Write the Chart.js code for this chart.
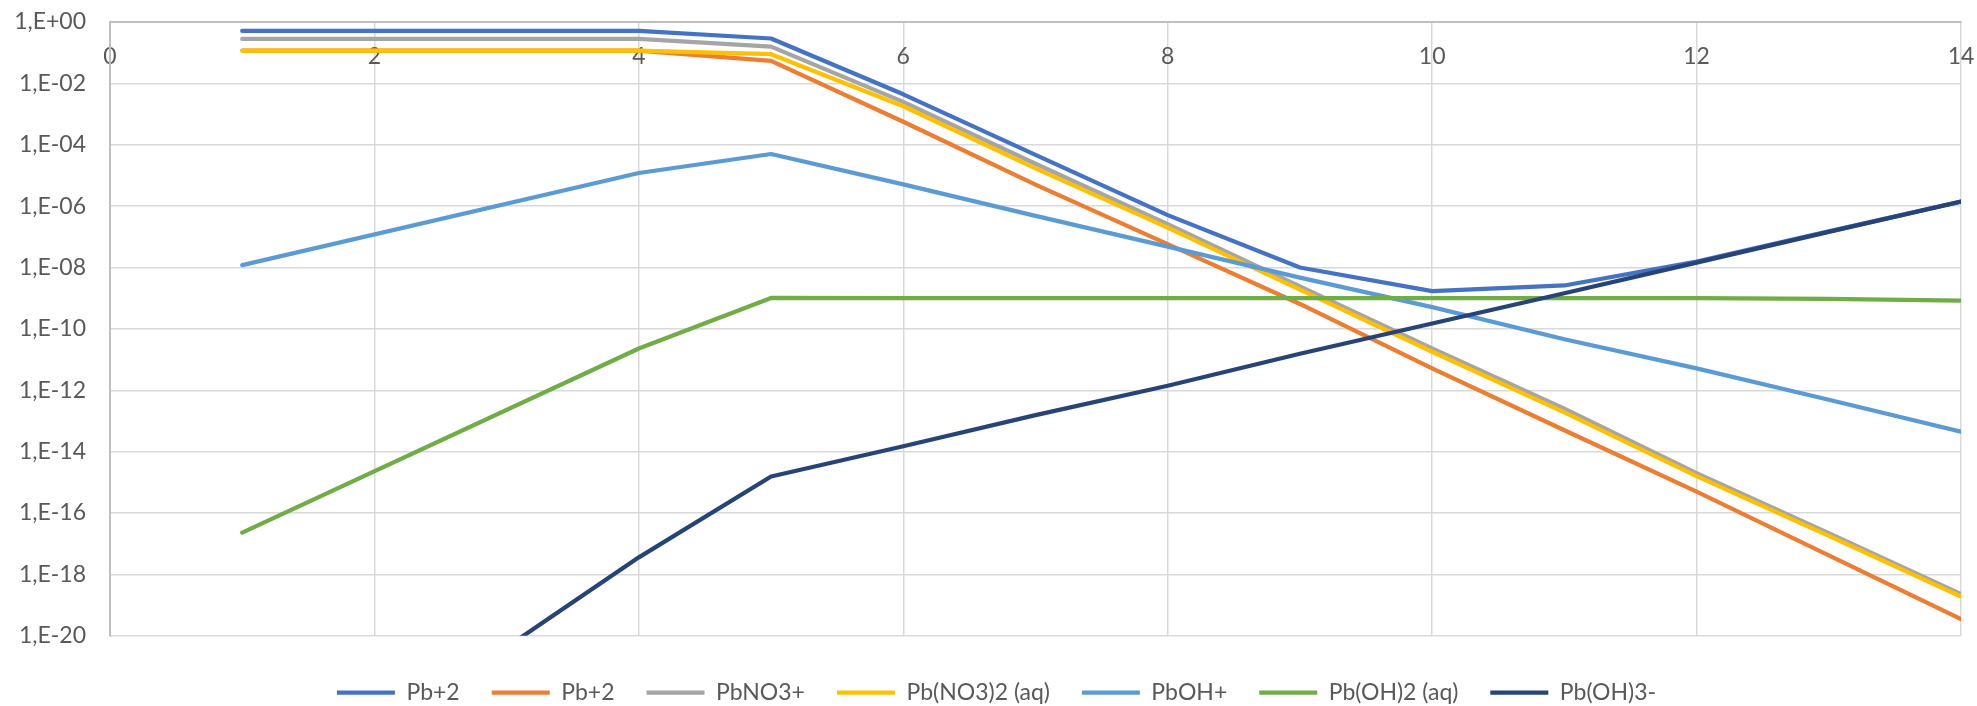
<!DOCTYPE html>
<html>
<head>
<meta charset="utf-8">
<script src="https://cdn.jsdelivr.net/npm/chart.js@4"></script>
<style>
  html, body { margin: 0; padding: 0; background: #fff; }
  #wrap { width: 1977px; height: 706px; }
</style>
</head>
<body>
<div id="wrap"><canvas id="chartSpeciation"></canvas></div>
<script>
/*-------------------
    DATA
--------------------*/
const pH = [1, 4, 5, 6, 7, 8, 9, 10, 11, 12, 13, 14];

const pbTotal  = [0.51, 0.51, 0.29, 4.4e-3, 4.7e-5, 5.1e-7, 1.0e-8, 1.7e-9, 2.6e-9, 1.55e-8, 1.5e-7, 1.4e-6];
const pb2      = [0.117, 0.117, 0.054, 5.6e-4, 5.0e-6, 5.8e-8, 6.5e-10, 5.2e-12, 5.0e-14, 5.0e-16, 4.2e-18, 3.5e-20];
const pbNO3    = [0.28, 0.28, 0.158, 2.5e-3, 2.4e-5, 2.6e-7, 2.4e-9, 2.3e-11, 2.5e-13, 2.0e-15, 2.2e-17, 2.3e-19];
const pbNO3_2  = [0.117, 0.117, 0.089, 1.8e-3, 1.7e-5, 2.0e-7, 1.9e-9, 1.8e-11, 1.9e-13, 1.6e-15, 1.8e-17, 1.9e-19];
const pbOH     = [1.2e-8, 1.2e-5, 5.0e-5, 5.1e-6, 4.8e-7, 4.8e-8, 4.7e-9, 5.1e-10, 4.6e-11, 5.2e-12, 4.9e-13, 4.5e-14];
const pbOH2    = [2.3e-17, 2.3e-11, 1.02e-9, 1.0e-9, 1.0e-9, 1.0e-9, 1.0e-9, 1.0e-9, 1.0e-9, 1.0e-9, 9.6e-10, 8.3e-10];
const pbOH3    = [6e-27, 3.6e-18, 1.55e-15, 1.5e-14, 1.55e-13, 1.4e-12, 1.55e-11, 1.5e-10, 1.45e-9, 1.45e-8, 1.45e-7, 1.4e-6];

const seriesNames = ['Pb+2', 'Pb+2', 'PbNO3+', 'Pb(NO3)2 (aq)', 'PbOH+', 'Pb(OH)2 (aq)', 'Pb(OH)3-'];
const seriesData  = [pbTotal, pb2, pbNO3, pbNO3_2, pbOH, pbOH2, pbOH3];
const colors      = ['#4472C4', '#ED7D31', '#A5A5A5', '#FFC000', '#5B9BD5', '#70AD47', '#264478'];

const xTickValues = [0, 2, 4, 6, 8, 10, 12, 14];
const yTickValues = [1, 1e-2, 1e-4, 1e-6, 1e-8, 1e-10, 1e-12, 1e-14, 1e-16, 1e-18, 1e-20];
const yTickLabels = ['1,E+00', '1,E-02', '1,E-04', '1,E-06', '1,E-08', '1,E-10',
                     '1,E-12', '1,E-14', '1,E-16', '1,E-18', '1,E-20'];

/*-------------------
    CHART
--------------------*/
Chart.defaults.font.family = 'Lato';
Chart.defaults.color = '#595959';

const datasets = seriesData.map((values, i) => ({
    label: seriesNames[i],
    data: pH.map((x, j) => ({x: x, y: values[j]})),
    borderColor: colors[i],
    backgroundColor: colors[i],
    borderWidth: 4.25,
    borderCapStyle: 'round',
    borderJoinStyle: 'round',
    pointRadius: 0,
    tension: 0,
    order: seriesData.length - i   // last series painted on top, like Excel
}));

// the legend in the original sits a bit right of the canvas centre
const legendShift = {
    id: 'legendShift',
    afterLayout(chart) {
        chart.legend.left += 16;
        chart.legend.right += 16;
    }
};

const canvas = document.getElementById('chartSpeciation');

new Chart(canvas, {
    type: 'line',
    data: { datasets: datasets },
    plugins: [legendShift],
    options: {
        responsive: true,
        maintainAspectRatio: false,
        animation: false,
        layout: { padding: { top: 22, right: 16, bottom: -8, left: 0 } },
        plugins: {
            legend: {
                position: 'bottom',
                title: { display: true, text: '', font: { size: 1 }, padding: { top: 12, bottom: 0 } },
                labels: {
                    usePointStyle: true,
                    pointStyle: 'line',
                    pointStyleWidth: 58,
                    boxWidth: 58,
                    padding: 32,
                    color: '#595959',
                    font: { size: 23 },
                    sort: (a, b) => a.datasetIndex - b.datasetIndex
                }
            },
            tooltip: { enabled: false }
        },
        scales: {
            x: {
                type: 'linear',
                position: { y: 1 },
                min: 0,
                max: 14,
                afterBuildTicks: (scale) => { scale.ticks = xTickValues.map(v => ({value: v})); },
                // labels sit inside the plot, so don't let them push the plot area in
                afterFit: (scale) => { scale.paddingLeft = 0; scale.paddingRight = 0; },
                ticks: { padding: 21, font: { size: 23 }, color: '#595959', maxRotation: 0 },
                grid: { color: '#d9d9d9', lineWidth: 1.5, drawTicks: false },
                border: { color: '#bfbfbf', width: 2 }
            },
            y: {
                type: 'logarithmic',
                min: 1e-20,
                max: 1,
                afterBuildTicks: (scale) => { scale.ticks = yTickValues.map(v => ({value: v})); },
                afterFit: (scale) => {
                    scale.width = 110;
                    scale.paddingTop = 14;
                    scale.paddingBottom = 14;
                },
                ticks: {
                    padding: 24,
                    font: { size: 23 },
                    color: '#595959',
                    callback: (value, index) => yTickLabels[index]
                },
                grid: { color: '#d9d9d9', lineWidth: 1.5, drawTicks: false },
                border: { color: '#bfbfbf', width: 2 }
            }
        }
    }
});
</script>
</body>
</html>
